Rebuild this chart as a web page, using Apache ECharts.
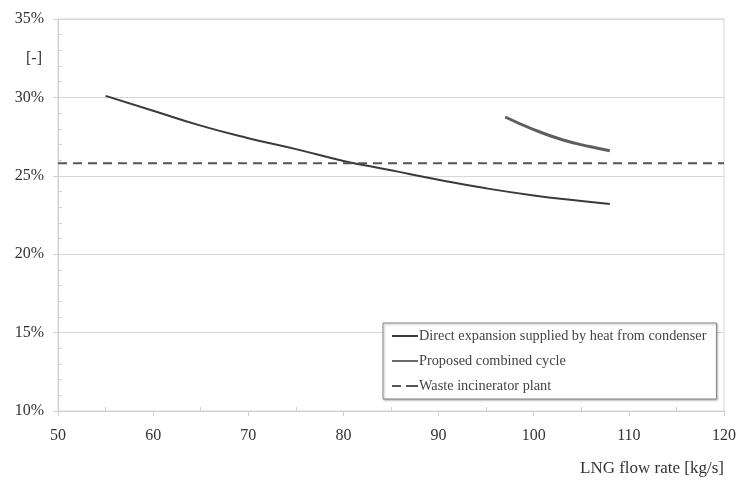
<!DOCTYPE html>
<html>
<head>
<meta charset="utf-8">
<script src="https://cdn.jsdelivr.net/npm/echarts@6/dist/echarts.min.js"></script>
<style>
  html, body { margin: 0; padding: 0; background: #fff; }
  #chart { width: 740px; height: 480px; }
</style>
</head>
<body>
<div id="chart"></div>
<script>
// LNG flow rate [kg/s] and efficiency [%]
const directX = [55, 60, 65, 70, 75, 80, 85, 90, 95, 100, 105, 108];
const directY = [30.1, 29.15, 28.2, 27.4, 26.7, 25.95, 25.35, 24.75, 24.2, 23.75, 23.4, 23.2];
const combinedX = [97, 100, 103, 106, 108];
const combinedY = [28.75, 27.95, 27.3, 26.85, 26.6];
const wasteX = [50, 120];
const wasteY = [25.8, 25.8];
const seriesNames = [
	"Direct expansion supplied by heat from condenser",
	"Proposed combined cycle",
	"Waste incinerator plant",
];

const pairs = (xs, ys) => xs.map((x, i) => [x, ys[i]]);
const serif = "Liberation Serif, Times New Roman, serif";
const axisGrey = "#cfcfcf";

// second (hidden) axes only carry the inward minor ticks
const minorX = {
	type: "value", min: 50, max: 120, interval: 10, position: "bottom",
	axisLine: { show: false }, axisLabel: { show: false }, splitLine: { show: false },
	axisTick: { show: true, inside: true, length: 0 },
	minorTick: { show: true, splitNumber: 2, length: 4, lineStyle: { color: axisGrey } },
};
const minorY = {
	type: "value", min: 10, max: 35, interval: 5, position: "left",
	axisLine: { show: false }, axisLabel: { show: false }, splitLine: { show: false },
	axisTick: { show: true, inside: true, length: 0 },
	minorTick: { show: true, splitNumber: 5, length: 4, lineStyle: { color: axisGrey } },
};

const chart = echarts.init(document.getElementById("chart"));
chart.setOption({
	animation: false,
	grid: {
		left: 58,
		right: 16,
		top: 19,
		bottom: 69,
		show: true,
		borderColor: "#d6d6d6",
		borderWidth: 1,
	},
	legend: {
		orient: "vertical",
		left: 383,
		top: 323,
		itemWidth: 26,
		itemHeight: 2,
		itemGap: 11,
		padding: [6, 10, 6, 9],
		backgroundColor: "#fff",
		borderColor: "#888",
		borderWidth: 1,
		shadowColor: "rgba(0,0,0,0.3)",
		shadowBlur: 2,
		shadowOffsetX: 1,
		shadowOffsetY: 1,
		textStyle: { fontFamily: serif, fontSize: 14.3, color: "#444", padding: [0, 0, 0, -4] },
		data: [
			{ name: seriesNames[0], icon: "path://M0,0h26v2h-26z" },
			{ name: seriesNames[1], icon: "path://M0,0h26v2h-26z" },
			{ name: seriesNames[2], icon: "path://M0,0h9v2h-9zM14,0h12v2h-12z" },
		],
	},
	xAxis: [
		{
			type: "value",
			min: 50,
			max: 120,
			interval: 10,
			name: "LNG flow rate [kg/s]",
			nameLocation: "end",
			nameGap: 0,
			nameTextStyle: {
				fontFamily: serif,
				fontSize: 17,
				color: "#333",
				align: "right",
				verticalAlign: "top",
				padding: [49, 0, 0, 0],
			},
			axisLine: { lineStyle: { color: axisGrey } },
			axisTick: { show: true, length: 5, lineStyle: { color: axisGrey } },
			splitLine: { show: false },
			axisLabel: { fontFamily: serif, fontSize: 16, color: "#333", margin: 17 },
		},
		minorX,
	],
	yAxis: [
		{
			type: "value",
			min: 10,
			max: 35,
			interval: 5,
			name: "[-]",
			nameLocation: "end",
			nameGap: 0,
			nameTextStyle: {
				fontFamily: serif,
				fontSize: 16,
				color: "#333",
				align: "right",
				padding: [0, 16, -48, 0],
			},
			axisLine: { show: true, lineStyle: { color: axisGrey } },
			axisTick: { show: true, length: 5, lineStyle: { color: axisGrey } },
			splitLine: { show: true, lineStyle: { color: "#d6d6d6" } },
			axisLabel: { fontFamily: serif, fontSize: 16, color: "#333", margin: 14, formatter: "{value}%" },
		},
		minorY,
	],
	series: [
		{
			name: seriesNames[0],
			type: "line",
			data: pairs(directX, directY),
			smooth: true,
			symbol: "none",
			lineStyle: { color: "#3a3a3a", width: 2 },
			itemStyle: { color: "#3a3a3a" },
		},
		{
			name: seriesNames[1],
			type: "line",
			data: pairs(combinedX, combinedY),
			smooth: true,
			symbol: "none",
			lineStyle: { color: "#5e5e5e", width: 3 },
			itemStyle: { color: "#6a6a6a" },
		},
		{
			name: seriesNames[2],
			type: "line",
			data: pairs(wasteX, wasteY),
			symbol: "none",
			lineStyle: { color: "#555", width: 2, type: [9, 6] },
			itemStyle: { color: "#555" },
		},
	],
});
</script>
</body>
</html>
